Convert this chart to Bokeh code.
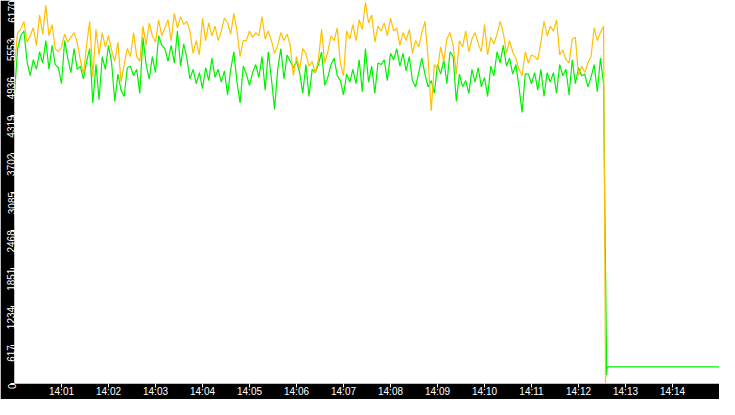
import math
import datetime as dt
from bokeh.plotting import figure
from bokeh.models import Range1d, FixedTicker, DatetimeTickFormatter
from bokeh.embed import file_html
from bokeh.resources import INLINE

# ---- data ----
start_time = dt.datetime(2024, 1, 1, 14, 0, 0, tzinfo=dt.timezone.utc)
end_seconds = 900          # 14:15
sample_interval_s = 4      # one reading every 4 s from 14:00:00

orange_values = [
    5138, 5653, 5705, 5833, 5499, 5602, 5730, 5447, 5936, 5627,
    6091, 5602, 5782, 5396, 5344, 5421, 5627, 5499, 5576, 5653,
    5499, 5215, 4984, 5447, 5833, 4932, 5705, 5293, 5653, 5421,
    5602, 5370, 5190, 5499, 4855, 5138, 5396, 5267, 5653, 5267,
    5190, 5756, 5447, 5808, 5602, 5499, 5859, 5602, 5730, 5859,
    5524, 5962, 5730, 5910, 5782, 5833, 5679, 5318, 5524, 5293,
    5885, 5524, 5808, 5602, 5756, 5524, 5679, 5885, 5808, 5627,
    5962, 5679, 5267, 5524,
    5524, 5679, 5576, 5653, 5602, 5910, 5550, 5679, 5524, 5318,
    5447, 5653, 5524, 5627, 5447, 4958, 5267, 5061, 5396, 5318,
    5112, 5190, 5009, 5215, 5705, 5164, 5344, 5602, 5524, 5730,
    5164, 4958, 5679, 5550, 5782, 5524, 5859, 5705, 6140, 5808,
    5936, 5499, 5756,
    5679, 5808, 5602, 5885, 5679, 5730, 5447, 5653, 5524, 5705,
    5318, 5524, 5421, 5653, 5833, 5241, 4391, 5138, 5061, 5421,
    5190, 5550, 5653, 5447, 4984, 5524, 5421, 5679, 5344, 5550,
    5653, 5473, 5344, 5782, 5293, 5576, 5473, 5627, 5833, 5653,
    5318, 5524, 5344, 5241, 5061, 4958, 5344,
    5164, 5293, 5267, 5215, 5499, 5833, 5602, 5756, 5679, 5859,
    5293, 5370, 5215, 5164, 5550, 5576, 4958, 5112, 5009, 5164,
    5267, 5730, 5524, 5653, 5756,
]
green_values = [
    4675, 5396, 5602, 5679, 5190, 4958, 5215, 5061, 5344, 5164,
    5524, 5061, 5447, 5138, 5087, 4829, 5524, 5241, 5009, 5396,
    5061, 5112, 4906, 5190, 5396, 4520, 5138, 4572, 5267, 5061,
    5447, 5164, 4546, 4984, 4726, 4623, 5087, 5112, 4958, 5061,
    4675, 5576, 5138, 4906, 5267, 5009, 5602, 5447, 5396, 5190,
    5447, 5164, 5679, 5112, 5473, 5241, 4906, 5061, 4829, 5009,
    4752, 5087, 4880, 5241, 4932, 5061, 4855, 5035, 4649, 5061,
    5344, 4855, 4520, 5112,
    4984, 4803, 5009, 5138, 4932, 5267, 4726, 5344, 4906, 4417,
    5061, 5396, 4906, 5293, 5190, 5087, 5190, 5009, 4675, 5138,
    4623, 5061, 5009, 5138, 5344, 4803, 4932, 5138, 5241, 4958,
    4880, 4649, 4984, 4855, 5061, 4829, 5215, 4700, 5396, 4855,
    5112, 4675, 5164,
    5138, 5215, 4880, 5318, 5215, 5396, 5112, 5318, 5035, 5267,
    4880, 4778, 5009, 5241, 4984, 4778, 4880, 4675, 5138, 4984,
    5215, 4829, 5344, 5267, 4546, 4984, 4778, 4880, 4675, 5061,
    4855, 5087, 4778, 4932, 4623, 5112, 4958, 5344, 5164, 5447,
    5112, 5241, 4984, 5138, 4778, 4365, 4984,
    4984, 4829, 5009, 4726, 5061, 4623, 5009, 4855, 5009, 4675,
    5138, 4958, 5061, 4649, 5215, 4829, 5087, 4958, 4984, 4778,
    4932, 5138, 4700, 5241, 4829,
]
# after the drop (seconds after 14:00, value)
orange_tail_seconds = [754.5, 900]
orange_tail_values = [0, 0]
green_tail_seconds = [754, 756, 756.5, 900]
green_tail_values = [2412, 139, 267, 267]

y_ticks = [0, 617, 1234, 1851, 2468, 3085, 3702, 4319, 4936, 5553, 6170]
x_tick_minutes = list(range(1, 15))   # 14:01 ... 14:14

ORANGE = "#ffc000"
GREEN = "#00f000"
FONT = "Liberation Sans"

# ---- build ----
base_ms = start_time.timestamp() * 1000.0
def to_ms(sec):
    return base_ms + sec * 1000.0

orange_x = [to_ms(i * sample_interval_s) for i in range(len(orange_values))] + [to_ms(s) for s in orange_tail_seconds]
orange_y = orange_values + orange_tail_values
green_x = [to_ms(i * sample_interval_s) for i in range(len(green_values))] + [to_ms(s) for s in green_tail_seconds]
green_y = green_values + green_tail_values

p = figure(width=719, height=399, x_axis_type="datetime",
           output_backend="svg", toolbar_location=None,
           x_range=Range1d(to_ms(0), to_ms(end_seconds)),
           y_range=Range1d(y_ticks[0], y_ticks[-1]),
           min_border=0, min_border_top=0, min_border_right=0,
           border_fill_color="black", background_fill_color="white",
           outline_line_color=None)
p.grid.visible = False

p.line(green_x, green_y, line_color=GREEN, line_width=1.2)
p.line(orange_x, orange_y, line_color=ORANGE, line_width=1.2)

ya = p.yaxis[0]
ya.ticker = FixedTicker(ticks=y_ticks)
ya.major_label_orientation = math.pi / 2
ya.major_label_text_color = "white"
ya.major_label_text_font = FONT
ya.major_label_text_font_size = "10px"
ya.major_label_standoff = -1
ya.major_tick_line_color = "white"
ya.major_tick_out = 4
ya.major_tick_in = 0
ya.minor_tick_line_color = None
ya.axis_line_color = None

xa = p.xaxis[0]
xa.ticker = FixedTicker(ticks=[to_ms(m * 60) for m in x_tick_minutes])
fmt = "%H:%M"
xa.formatter = DatetimeTickFormatter(seconds=fmt, minsec=fmt, minutes=fmt, hourmin=fmt, hours=fmt)
xa.major_label_text_color = "white"
xa.major_label_text_font = FONT
xa.major_label_text_font_size = "10px"
xa.major_label_standoff = -2
xa.major_tick_line_color = "white"
xa.major_tick_out = 4
xa.major_tick_in = 0
xa.minor_tick_line_color = None
xa.axis_line_color = None

open("out.html", "w").write(file_html(p, INLINE))
